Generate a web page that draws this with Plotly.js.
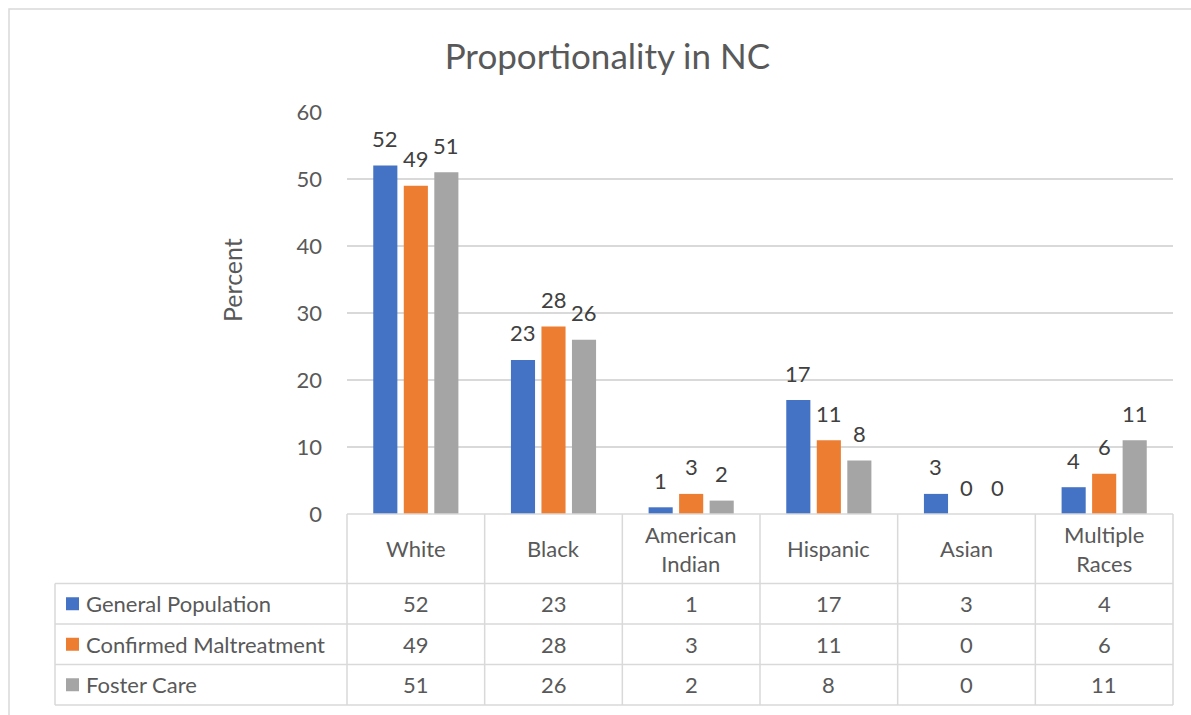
<!DOCTYPE html>
<html>
<head>
<meta charset="utf-8">
<script src="https://cdn.plot.ly/plotly-3.0.1.min.js"></script>
<style>html,body{margin:0;padding:0;background:#fff;}#chart{width:1191px;height:715px;}</style>
</head>
<body>
<div id="chart"></div>
<script>
const categories = ["White", "Black", "American Indian", "Hispanic", "Asian", "Multiple Races"];
const categoryLabels = ["White", "Black", "American<br>Indian", "Hispanic", "Asian", "Multiple<br>Races"];
const seriesNames = ["General Population", "Confirmed Maltreatment", "Foster Care"];
const generalPopulation = [52, 23, 1, 17, 3, 4];
const confirmedMaltreatment = [49, 28, 3, 11, 0, 6];
const fosterCare = [51, 26, 2, 8, 0, 11];
const seriesColors = ["#4472C4", "#ED7D31", "#A5A5A5"];
const yTicks = [0, 10, 20, 30, 40, 50, 60];

const seriesValues = [generalPopulation, confirmedMaltreatment, fosterCare];
const FONT = "Lato, 'Open Sans', sans-serif";
const TXT = "#595959";

// plot area in pixels
const L = 347, R = 1173, T = 112, B = 514;
const W = 1191, H = 715;
const px = x => (x - L) / (R - L);
const py = y => (B - y) / (B - T);
const BARGAP = 0.335, BARGROUPGAP = 0.21;

const traces = seriesValues.map((vals, i) => ({
  type: "bar",
  name: seriesNames[i],
  x: categories,
  y: vals,
  marker: { color: seriesColors[i] },
  cliponaxis: false,
  hoverinfo: "skip"
}));

const shapes = [];
const annotations = [];
const gridColor = "#D9D9D9";
const lineStyle = { color: gridColor, width: 1.5 };

// data labels above bars (offset per series within the group)
const nCat = categories.length;
const slotPx = (R - L) / nCat * (1 - BARGAP) / seriesValues.length;
seriesValues.forEach((vals, s) => {
  vals.forEach((v, i) => {
    annotations.push({ xref: "x", yref: "y", x: categories[i], y: v, text: String(v), showarrow: false,
      xanchor: "center", yanchor: "middle", xshift: (s - 1) * slotPx, yshift: 27,
      font: { family: FONT, size: 22, color: "#404040" } });
  });
});

// outer chart border
shapes.push({ type: "rect", xref: "paper", yref: "paper", x0: px(9), x1: px(1200), y0: py(9), y1: py(730), line: { color: "#D9D9D9", width: 1.5 }, fillcolor: "rgba(0,0,0,0)", layer: "below" });

// data table
const colEdges = [];
for (let i = 0; i <= nCat; i++) colEdges.push(L + (R - L) * i / nCat);
const rowEdges = [514, 583.5, 624, 664.5, 705];
const tableLeft = 55;

shapes.push({ type: "line", xref: "paper", yref: "paper", x0: px(L), x1: px(R), y0: py(rowEdges[0]), y1: py(rowEdges[0]), line: lineStyle });
for (let r = 1; r < rowEdges.length; r++) {
  shapes.push({ type: "line", xref: "paper", yref: "paper", x0: px(tableLeft), x1: px(R), y0: py(rowEdges[r]), y1: py(rowEdges[r]), line: lineStyle });
}
colEdges.forEach(x => {
  shapes.push({ type: "line", xref: "paper", yref: "paper", x0: px(x), x1: px(x), y0: py(rowEdges[0]), y1: py(rowEdges[rowEdges.length - 1]), line: lineStyle });
});
shapes.push({ type: "line", xref: "paper", yref: "paper", x0: px(tableLeft), x1: px(tableLeft), y0: py(rowEdges[1]), y1: py(rowEdges[rowEdges.length - 1]), line: lineStyle });

// category labels
categoryLabels.forEach((lab, i) => {
  const cx = (colEdges[i] + colEdges[i + 1]) / 2;
  annotations.push({ xref: "paper", yref: "paper", x: px(cx), y: py((rowEdges[0] + rowEdges[1]) / 2), text: lab, showarrow: false, xanchor: "center", yanchor: "middle", font: { family: FONT, size: 22, color: TXT } });
});

// values & legend keys
seriesValues.forEach((vals, s) => {
  const cy = (rowEdges[s + 1] + rowEdges[s + 2]) / 2;
  shapes.push({ type: "rect", xref: "paper", yref: "paper", x0: px(66), x1: px(79), y0: py(cy - 6.5), y1: py(cy + 6.5), fillcolor: seriesColors[s], line: { width: 0 } });
  annotations.push({ xref: "paper", yref: "paper", x: px(84), y: py(cy), text: seriesNames[s], showarrow: false, xanchor: "left", yanchor: "middle", font: { family: FONT, size: 22, color: TXT } });
  vals.forEach((v, i) => {
    const cx = (colEdges[i] + colEdges[i + 1]) / 2;
    annotations.push({ xref: "paper", yref: "paper", x: px(cx), y: py(cy), text: String(v), showarrow: false, xanchor: "center", yanchor: "middle", font: { family: FONT, size: 22, color: TXT } });
  });
});

// y-axis title
annotations.push({ xref: "paper", yref: "paper", x: px(232), y: py(280), text: "Percent", textangle: -90, showarrow: false, xanchor: "center", yanchor: "middle", font: { family: FONT, size: 25, color: TXT } });

const layout = {
  width: W, height: H,
  margin: { l: L, r: W - R, t: T, b: H - B, pad: 0 },
  paper_bgcolor: "#fff", plot_bgcolor: "#fff",
  showlegend: false,
  barmode: "group",
  bargap: BARGAP,
  bargroupgap: BARGROUPGAP,
  title: { text: "Proportionality in NC", x: 0.51, xanchor: "center", y: 1 - 57 / H, yanchor: "middle", font: { family: FONT, size: 35, color: TXT } },
  xaxis: { showticklabels: false, showgrid: false, zeroline: false, showline: false, ticks: "" },
  yaxis: {
    range: [0, 60], tickvals: yTicks, ticktext: yTicks.map(String),
    showgrid: true, gridcolor: gridColor, gridwidth: 1.5,
    zeroline: false, showline: false, ticks: "", ticklen: 0,
    ticklabelstandoff: 24,
    tickfont: { family: FONT, size: 22, color: TXT },
    automargin: false
  },
  shapes: shapes,
  annotations: annotations,
  font: { family: FONT, color: TXT }
};

Plotly.newPlot("chart", traces, layout, { displayModeBar: false, staticPlot: true });
</script>
</body>
</html>
